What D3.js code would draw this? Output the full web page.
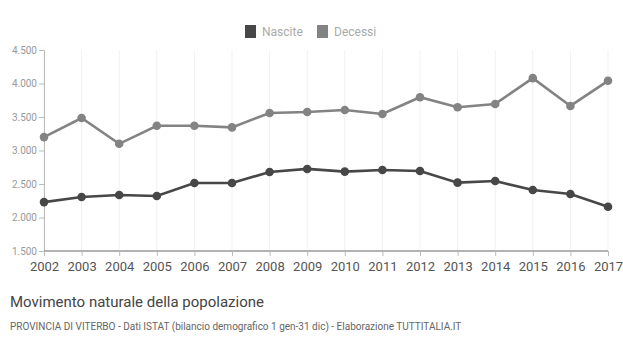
<!DOCTYPE html>
<html>
<head>
<meta charset="utf-8">
<script src="https://cdn.jsdelivr.net/npm/d3@7"></script>
<style>
  body { margin: 0; background: #fff; }
  text { font-family: Roboto, "Liberation Sans", sans-serif; }
</style>
</head>
<body>
<svg id="chart"></svg>
<script>
var years = ['2002','2003','2004','2005','2006','2007','2008','2009','2010','2011','2012','2013','2014','2015','2016','2017'];
var nascite = [2230, 2305, 2335, 2320, 2515, 2515, 2680, 2725, 2685, 2710, 2695, 2520, 2545, 2410, 2350, 2160];
var decessi = [3200, 3485, 3100, 3370, 3370, 3345, 3560, 3575, 3605, 3545, 3795, 3645, 3695, 4080, 3665, 4040];
var yTicks = [1500, 2000, 2500, 3000, 3500, 4000, 4500];
var seriesNames = ['Nascite', 'Decessi'];
var seriesColors = ['#474747', '#838383'];

var width = 623;
var height = 342;
var left = 44; // plot left edge
var right = 608; // plot right edge
var top_ = 50;
var bottom = 251;

var svg = d3.select('#chart')
            .attr('width', width)
            .attr('height', height);

var x = d3.scalePoint().domain(years).range([left, right]);
var y = d3.scaleLinear().domain([1500, 4500]).range([bottom, top_]);

var fmt = function(d){ return d3.format(',')(d).replace(/,/g, '.'); };

// faint vertical grid
svg.append('g')
   .selectAll('line')
   .data(years)
   .enter()
   .append('line')
   .attr('x1', function(d){ return x(d); })
   .attr('x2', function(d){ return x(d); })
   .attr('y1', top_)
   .attr('y2', bottom)
   .attr('stroke', '#f1f1f1');

// y axis
var yAxis = svg.append('g')
   .attr('transform', 'translate(' + left + ',0)')
   .call(d3.axisLeft(y).tickValues(yTicks).tickFormat(fmt).tickSize(5).tickPadding(2));
yAxis.select('.domain').attr('stroke', '#bbb');
yAxis.selectAll('.tick line').attr('stroke', '#bbb');
yAxis.selectAll('text').attr('fill', '#999').style('font-size', '10px');

// x axis
var xAxis = svg.append('g')
   .attr('transform', 'translate(0,' + bottom + ')')
   .call(d3.axisBottom(x).tickSize(5).tickPadding(6));
xAxis.select('.domain').attr('stroke', '#666').attr('d', 'M' + left + ',0H' + right);
xAxis.selectAll('.tick line').attr('stroke', '#bbb');
xAxis.selectAll('text').attr('fill', '#555').style('font-size', '13px');

var all = [nascite, decessi];
var line = d3.line()
   .x(function(d, i){ return x(years[i]); })
   .y(function(d){ return y(d); });

all.forEach(function(values, k){
  svg.append('path')
     .datum(values)
     .attr('d', line)
     .attr('fill', 'none')
     .attr('stroke', seriesColors[k])
     .attr('stroke-width', 2.6);

  svg.append('g')
     .selectAll('circle')
     .data(values)
     .enter()
     .append('circle')
     .attr('cx', function(d, i){ return x(years[i]); })
     .attr('cy', function(d){ return y(d); })
     .attr('r', 4.3)
     .attr('fill', seriesColors[k]);
});

// legend
var legendX = [245, 317];
var legend = svg.append('g');
seriesNames.forEach(function(name, k){
  legend.append('rect')
        .attr('x', legendX[k])
        .attr('y', 25)
        .attr('width', 11)
        .attr('height', 13)
        .attr('fill', seriesColors[k]);
  legend.append('text')
        .attr('x', legendX[k] + 17)
        .attr('y', 36)
        .attr('fill', '#aaa')
        .style('font-size', '12px')
        .text(name);
});

svg.append('text')
   .attr('x', 10)
   .attr('y', 307)
   .attr('fill', '#444')
   .style('font-size', '15px')
   .text('Movimento naturale della popolazione');

svg.append('text')
   .attr('x', 10)
   .attr('y', 330)
   .attr('fill', '#666')
   .style('font-size', '10px')
   .text('PROVINCIA DI VITERBO - Dati ISTAT (bilancio demografico 1 gen-31 dic) - Elaborazione TUTTITALIA.IT');
</script>
</body>
</html>
